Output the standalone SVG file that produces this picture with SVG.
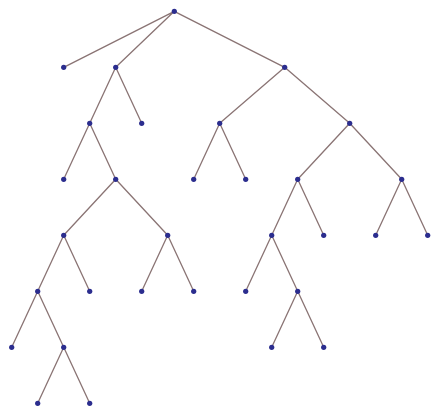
<svg xmlns="http://www.w3.org/2000/svg" width="434" height="410" viewBox="0 0 434 410">
<style>
.e{stroke:#8a7474;stroke-width:1.3;fill:none}
.n{fill:#2b2d8e}
</style>
<rect width="434" height="410" fill="#fff"/>
<g id="edges" class="e">
<path d="M174.3 11.3L63.7 67.3M174.3 11.3L115.7 67.3M174.3 11.3L284.7 67.3"/>
<path d="M115.7 67.3L89.7 123.3M115.7 67.3L141.7 123.3"/>
<path d="M284.7 67.3L219.7 123.3M284.7 67.3L349.7 123.3"/>
<path d="M89.7 123.3L63.7 179.3M89.7 123.3L115.7 179.3"/>
<path d="M219.7 123.3L193.7 179.3M219.7 123.3L245.7 179.3"/>
<path d="M349.7 123.3L297.7 179.3M349.7 123.3L401.7 179.3"/>
<path d="M115.7 179.3L63.7 235.3M115.7 179.3L167.7 235.3"/>
<path d="M297.7 179.3L271.7 235.3M297.7 179.3L323.7 235.3"/>
<path d="M401.7 179.3L375.7 235.3M401.7 179.3L427.7 235.3"/>
<path d="M63.7 235.3L37.7 291.3M63.7 235.3L89.7 291.3"/>
<path d="M167.7 235.3L141.7 291.3M167.7 235.3L193.7 291.3"/>
<path d="M271.7 235.3L245.7 291.3M271.7 235.3L297.7 291.3"/>
<path d="M37.7 291.3L11.7 347.3M37.7 291.3L63.7 347.3"/>
<path d="M297.7 291.3L271.7 347.3M297.7 291.3L323.7 347.3"/>
<path d="M63.7 347.3L37.7 403.3M63.7 347.3L89.7 403.3"/>
</g>
<g id="nodes" class="n">
<g id="n0"><circle cx="174.3" cy="11.3" r="2.6"/></g>
<g id="n1"><circle cx="63.7" cy="67.3" r="2.6"/></g>
<g id="n2"><circle cx="115.7" cy="67.3" r="2.6"/></g>
<g id="n3"><circle cx="284.7" cy="67.3" r="2.6"/></g>
<g id="n4"><circle cx="89.7" cy="123.3" r="2.6"/></g>
<g id="n5"><circle cx="141.7" cy="123.3" r="2.6"/></g>
<g id="n6"><circle cx="219.7" cy="123.3" r="2.6"/></g>
<g id="n7"><circle cx="349.7" cy="123.3" r="2.6"/></g>
<g id="n8"><circle cx="63.7" cy="179.3" r="2.6"/></g>
<g id="n9"><circle cx="115.7" cy="179.3" r="2.6"/></g>
<g id="n10"><circle cx="193.7" cy="179.3" r="2.6"/></g>
<g id="n11"><circle cx="245.7" cy="179.3" r="2.6"/></g>
<g id="n12"><circle cx="297.7" cy="179.3" r="2.6"/></g>
<g id="n13"><circle cx="401.7" cy="179.3" r="2.6"/></g>
<g id="n14"><circle cx="63.7" cy="235.3" r="2.6"/></g>
<g id="n15"><circle cx="167.7" cy="235.3" r="2.6"/></g>
<g id="n16"><circle cx="271.7" cy="235.3" r="2.6"/></g>
<g id="n17"><circle cx="323.7" cy="235.3" r="2.6"/></g>
<g id="n18"><circle cx="375.7" cy="235.3" r="2.6"/></g>
<g id="n19"><circle cx="427.7" cy="235.3" r="2.6"/></g>
<g id="n20"><circle cx="37.7" cy="291.3" r="2.6"/></g>
<g id="n21"><circle cx="89.7" cy="291.3" r="2.6"/></g>
<g id="n22"><circle cx="141.7" cy="291.3" r="2.6"/></g>
<g id="n23"><circle cx="193.7" cy="291.3" r="2.6"/></g>
<g id="n24"><circle cx="245.7" cy="291.3" r="2.6"/></g>
<g id="n25"><circle cx="297.7" cy="291.3" r="2.6"/></g>
<g id="n26"><circle cx="11.7" cy="347.3" r="2.6"/></g>
<g id="n27"><circle cx="63.7" cy="347.3" r="2.6"/></g>
<g id="n28"><circle cx="271.7" cy="347.3" r="2.6"/></g>
<g id="n29"><circle cx="323.7" cy="347.3" r="2.6"/></g>
<g id="n30"><circle cx="37.7" cy="403.3" r="2.6"/></g>
<g id="n31"><circle cx="89.7" cy="403.3" r="2.6"/></g>
</g>
</svg>
